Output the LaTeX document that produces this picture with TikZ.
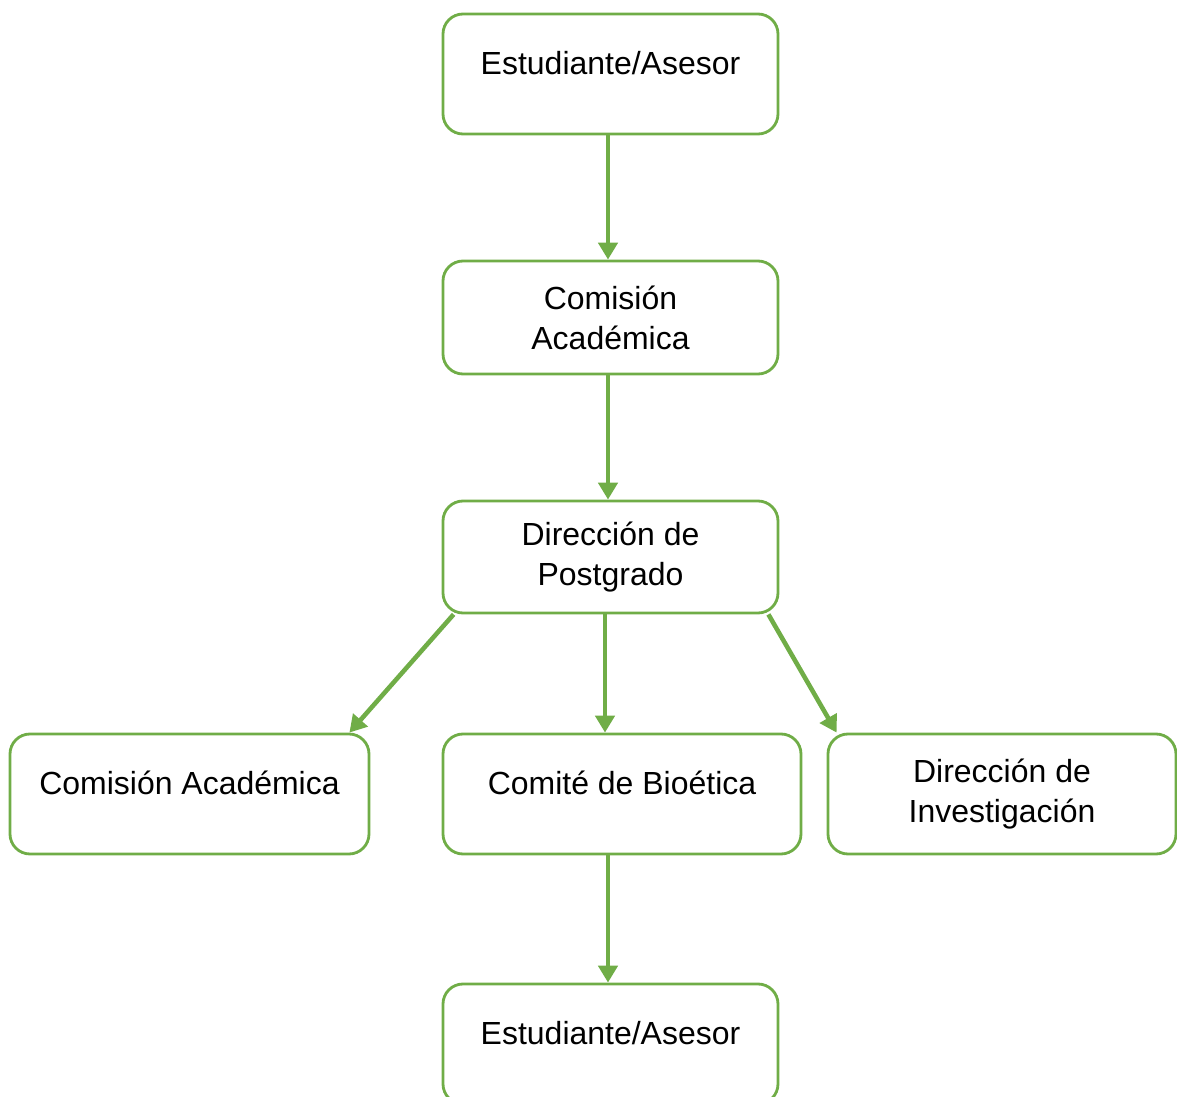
\documentclass[tikz,border=0pt]{standalone}
\usepackage{fontspec}
\setmainfont{Liberation Sans}
\usetikzlibrary{arrows.meta}
\definecolor{leaf}{HTML}{70AD47}
\begin{document}
\begin{tikzpicture}[
            box/.style = {draw=leaf,
                line width = 1.6pt,
                rounded corners = 0.4cm,
                inner sep = 0pt,
                align = center,
                minimum width = 6.7cm,
                minimum height = 2.4cm,
                font = \fontsize{18.2}{22.7}\selectfont
                },
            oneline/.style = {text height = 13pt, text depth = 12.4pt},
            flow/.style = {draw=leaf,
                line width = 2.6pt,
                -{Triangle[width=10.8pt,length=9.6pt]}
                }]

        \clip (0,0) rectangle (23.54,-21.94);

        % Estudiante/Asesor
        \node[box,oneline] (est) at (12.21,-1.48) {Estudiante/Asesor};

        % Comision Academica
        \node[box,minimum height=2.26cm] (com) at (12.21,-6.35) {Comisión\\Académica};

        % Direccion de Postgrado
        \node[box,minimum height=2.24cm] (post) at (12.21,-11.14) {Dirección de\\Postgrado};

        % Third row
        \node[box,oneline,minimum width=7.18cm] (comL) at (3.79,-15.88) {Comisión Académica};
        \node[box,oneline,minimum width=7.16cm] (bio) at (12.44,-15.88) {Comité de Bioética};
        \node[box,minimum width=6.96cm] (inv) at (20.04,-15.88) {Dirección de\\Investigación};

        % Estudiante/Asesor again
        \node[box,oneline] (estB) at (12.21,-20.88) {Estudiante/Asesor};

        % Arrows
        \draw[flow] ([xshift=-0.05cm]est.south) -- ([xshift=-0.05cm]com.north);
        \draw[flow] ([xshift=-0.05cm]com.south) -- ([xshift=-0.05cm]post.north);
        \draw[flow] ([xshift=0.24cm]post.south west) -- ([xshift=-0.42cm]comL.north east);
        \draw[flow] ([xshift=-0.11cm]post.south) -- ([xshift=-0.11cm]post.south |- bio.north);
        \draw[flow] ([xshift=-0.22cm]post.south east) -- ([xshift=0.2cm]inv.north west);
        \draw[flow] ([xshift=-0.05cm]bio.south -| estB.north) -- ([xshift=-0.05cm]estB.north);

        \end{tikzpicture}
\end{document}
